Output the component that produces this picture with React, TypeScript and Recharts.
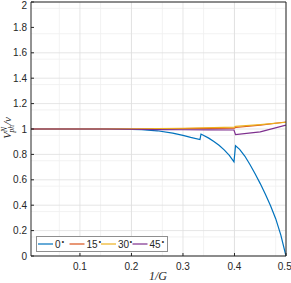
import React from 'react';
import { LineChart, Line, XAxis, YAxis, CartesianGrid } from 'recharts';

const xTicks = [0.1, 0.2, 0.3, 0.4, 0.5];
const yTicks = [0, 0.2, 0.4, 0.6, 0.8, 1, 1.2, 1.4, 1.6, 1.8, 2];
const xMinor = [0.02, 0.04, 0.06, 0.08, 0.1, 0.12, 0.14, 0.16, 0.18, 0.2, 0.22, 0.24, 0.26, 0.28, 0.3, 0.32, 0.34, 0.36, 0.38, 0.4, 0.42, 0.44, 0.46, 0.48];
const yMinor = [0.05, 0.1, 0.15, 0.25, 0.3, 0.35, 0.45, 0.5, 0.55, 0.65, 0.7, 0.75, 0.85, 0.9, 0.95, 1.05, 1.1, 1.15, 1.25, 1.3, 1.35, 1.45, 1.5, 1.55, 1.65, 1.7, 1.75, 1.85, 1.9, 1.95];

const seriesNames = ['0', '15', '30', '45'];
const colors = ['#0072BD', '#D95319', '#EDB120', '#7E2F8E'];

const deg0 = [
  { x: 0.005, y: 1 }, { x: 0.1, y: 1 }, { x: 0.16, y: 1 }, { x: 0.18, y: 0.999 },
  { x: 0.2, y: 0.997 }, { x: 0.22, y: 0.994 }, { x: 0.25, y: 0.986 }, { x: 0.28, y: 0.967 },
  { x: 0.3, y: 0.95 }, { x: 0.315, y: 0.934 }, { x: 0.333, y: 0.917 }, { x: 0.335, y: 0.96 },
  { x: 0.35, y: 0.928 }, { x: 0.36, y: 0.902 }, { x: 0.37, y: 0.872 }, { x: 0.38, y: 0.836 },
  { x: 0.39, y: 0.792 }, { x: 0.399, y: 0.742 }, { x: 0.402, y: 0.868 }, { x: 0.41, y: 0.84 },
  { x: 0.42, y: 0.787 }, { x: 0.43, y: 0.72 }, { x: 0.44, y: 0.647 }, { x: 0.45, y: 0.57 },
  { x: 0.46, y: 0.487 }, { x: 0.47, y: 0.395 }, { x: 0.48, y: 0.294 }, { x: 0.49, y: 0.165 },
  { x: 0.5, y: 0.0 },
];
const deg15 = [
  { x: 0.005, y: 1 }, { x: 0.2, y: 1.0 }, { x: 0.3, y: 1.003 }, { x: 0.4, y: 1.007 },
  { x: 0.402, y: 1.012 }, { x: 0.45, y: 1.03 }, { x: 0.5, y: 1.055 },
];
const deg30 = [
  { x: 0.005, y: 1 }, { x: 0.2, y: 1.001 }, { x: 0.3, y: 1.006 }, { x: 0.4, y: 1.015 },
  { x: 0.402, y: 1.02 }, { x: 0.45, y: 1.034 }, { x: 0.5, y: 1.053 },
];
const deg45 = [
  { x: 0.005, y: 1 }, { x: 0.15, y: 1 }, { x: 0.2, y: 0.998 }, { x: 0.25, y: 0.995 },
  { x: 0.3, y: 0.994 }, { x: 0.35, y: 0.993 }, { x: 0.399, y: 0.992 }, { x: 0.402, y: 0.955 },
  { x: 0.45, y: 0.978 }, { x: 0.5, y: 1.03 },
];
const allSeries = [deg0, deg15, deg30, deg45];

const AXIS = '#262626';
const FONT = 'Liberation Sans, Arial, Helvetica, sans-serif';
const SERIF = 'Liberation Serif, DejaVu Serif, serif';

const LegendBox = () => (
  <svg width={132} height={16} style={{ display: 'block' }}>
    <rect x={0.5} y={0.5} width={131} height={15} fill="#fff" stroke="#8f8f8f" strokeWidth={1} />
    {seriesNames.map((n, i) => {
      const x0 = 2 + i * 31.5;
      return (
        <g key={n}>
          <line x1={x0} x2={x0 + 15} y1={8} y2={8} stroke={colors[i]} strokeWidth={1.2} />
          <text x={x0 + 17} y={12} fontSize={10} fontFamily={FONT} fill={AXIS}>
            {n}
            <tspan fontSize={6} dy={-5}>∘</tspan>
          </text>
        </g>
      );
    })}
  </svg>
);

const YLabel = () => (
  <text
    transform="translate(11,128) rotate(-90)"
    textAnchor="middle"
    fontFamily={SERIF}
    fontStyle="italic"
    fontSize={11}
    fill={AXIS}
  >
    V
    <tspan fontSize={7.5} dy={-4}>N</tspan>
    <tspan fontSize={7.5} dx={-5.5} dy={7}>ph</tspan>
    <tspan dy={-3}>/v</tspan>
  </text>
);

const XLabel = () => (
  <text x={158} y={280} textAnchor="middle" fontFamily={SERIF} fontStyle="italic" fontSize={12} fill={AXIS}>
    1/G
  </text>
);

export default function App() {
  return (
    <div style={{ position: 'absolute', left: 0, top: 0, width: 291, height: 283, background: '#fff' }}>
      <LineChart width={291} height={283} margin={{ top: 2, right: 5, bottom: 0, left: 0 }}>
        <CartesianGrid
          xAxisId="b"
          yAxisId="l"
          stroke="#efefef"
          strokeWidth={0.8}
          horizontalValues={yMinor}
          verticalValues={xMinor}
        />
        <CartesianGrid
          xAxisId="b"
          yAxisId="l"
          stroke="#dedede"
          strokeWidth={0.8}
          horizontalValues={yTicks}
          verticalValues={xTicks}
        />
        <XAxis
          xAxisId="b"
          type="number"
          dataKey="x"
          domain={[0.005, 0.5]}
          ticks={xTicks}
          allowDataOverflow
          height={27}
          stroke={AXIS}
          tickSize={-3}
          tickMargin={10}
          tick={{ fontSize: 10, fill: AXIS, fontFamily: FONT }}
          tickFormatter={(v: number) => String(v)}
          label={{ content: () => <XLabel /> }}
        />
        <XAxis
          xAxisId="t"
          orientation="top"
          type="number"
          dataKey="x"
          domain={[0.005, 0.5]}
          ticks={xTicks}
          allowDataOverflow
          height={1}
          stroke={AXIS}
          mirror
          tickSize={3}
          tick={false}
        />
        <YAxis
          yAxisId="l"
          type="number"
          domain={[0, 2]}
          ticks={yTicks}
          width={31}
          stroke={AXIS}
          tickSize={-3}
          tickMargin={7}
          tick={{ fontSize: 10, fill: AXIS, fontFamily: FONT }}
          tickFormatter={(v: number) => String(v)}
          label={{ content: () => <YLabel /> }}
        />
        <YAxis
          yAxisId="r"
          orientation="right"
          type="number"
          domain={[0, 2]}
          ticks={yTicks}
          width={1}
          stroke={AXIS}
          mirror
          tickSize={3}
          tick={false}
        />
        {allSeries.map((d, i) => (
          <Line
            key={seriesNames[i]}
            xAxisId="b"
            yAxisId="l"
            data={d}
            dataKey="y"
            name={seriesNames[i]}
            stroke={colors[i]}
            strokeWidth={1.2}
            dot={false}
            activeDot={false}
            type="linear"
            isAnimationActive={false}
          />
        ))}
      </LineChart>
      <div style={{ position: 'absolute', left: 36, top: 236 }}>
        <LegendBox />
      </div>
    </div>
  );
}
